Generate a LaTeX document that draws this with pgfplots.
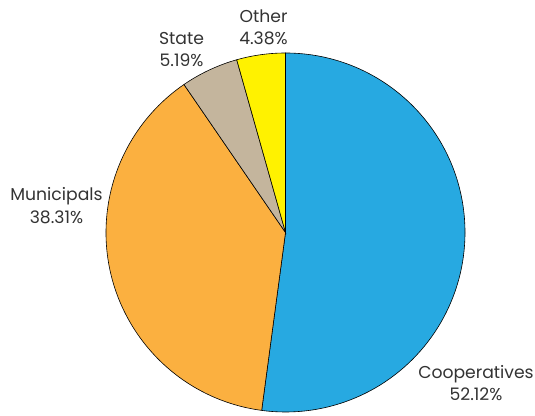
\documentclass[border=0pt]{standalone}
\usepackage{pgfplots}
\pgfplotsset{compat=1.18}
\usepackage{fontspec}
\setmainfont{Poppins}
\definecolor{coop}{HTML}{27A9E1}
\definecolor{muni}{HTML}{FBB040}
\definecolor{state}{HTML}{C4B59D}
\definecolor{other}{HTML}{FFF200}
\definecolor{txt}{HTML}{333333}
\begin{document}
\begin{tikzpicture}
\begin{axis}[
  x=1bp, y=1bp, xmin=0, xmax=535, ymin=0, ymax=411,
  hide axis, clip=false,
]
\path (axis cs:0,0) rectangle (axis cs:535,411);
% shares in percent: Cooperatives 52.12, Municipals 38.31, State 5.19, Other 4.38
\pgfmathsetmacro{\aA}{90}
\pgfmathsetmacro{\aB}{90-3.6*52.12}
\pgfmathsetmacro{\aC}{\aB-3.6*38.31}
\pgfmathsetmacro{\aD}{\aC-3.6*5.19}
\pgfmathsetmacro{\aE}{\aD-3.6*4.38}
\filldraw[fill=coop, draw=black, line width=0.6bp] (axis cs:285.5,178.5) -- ++(\aA:179.5bp) arc[start angle=\aA, end angle=\aB, radius=179.5bp] -- cycle;
\filldraw[fill=muni, draw=black, line width=0.6bp] (axis cs:285.5,178.5) -- ++(\aB:179.5bp) arc[start angle=\aB, end angle=\aC, radius=179.5bp] -- cycle;
\filldraw[fill=state, draw=black, line width=0.6bp] (axis cs:285.5,178.5) -- ++(\aC:179.5bp) arc[start angle=\aC, end angle=\aD, radius=179.5bp] -- cycle;
\filldraw[fill=other, draw=black, line width=0.6bp] (axis cs:285.5,178.5) -- ++(\aD:179.5bp) arc[start angle=\aD, end angle=\aE, radius=179.5bp] -- cycle;
\tikzset{lbl/.style={anchor=base, text=txt, font=\fontsize{17.2bp}{18bp}\selectfont, inner sep=0pt}}
\node[lbl] at (axis cs:263.5,388.3) {Other};
\node[lbl] at (axis cs:263.5,366) {4.38\%};
\node[lbl] at (axis cs:181.5,366.7) {State};
\node[lbl] at (axis cs:181.5,344.3) {5.19\%};
\node[lbl] at (axis cs:56.5,210.3) {Municipals};
\node[lbl] at (axis cs:56.5,187.7) {38.31\%};
\node[lbl] at (axis cs:476,33) {Cooperatives};
\node[lbl] at (axis cs:476,11) {52.12\%};
\end{axis}
\end{tikzpicture}
\end{document}
